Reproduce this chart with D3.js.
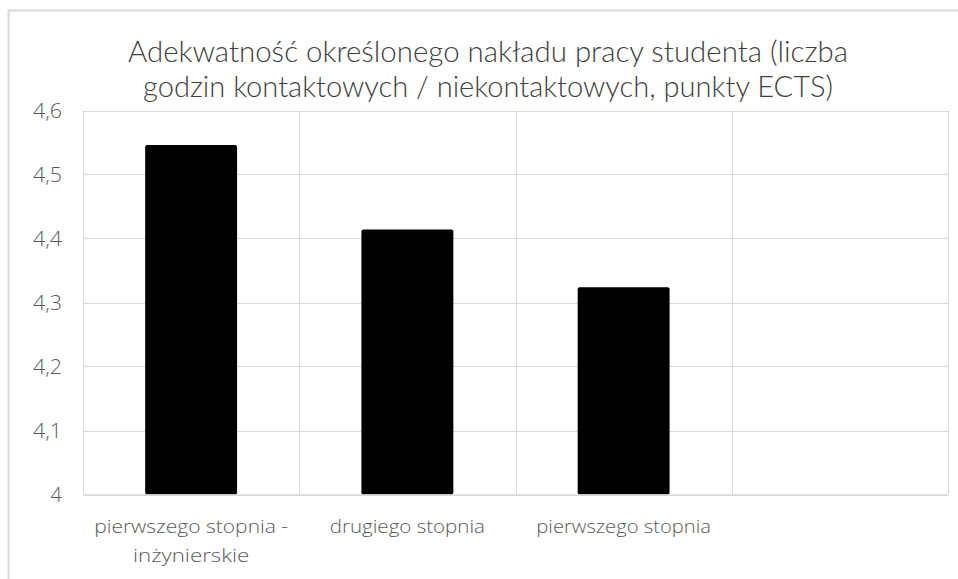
<!DOCTYPE html>
<html>
<head>
<meta charset="utf-8">
<script src="https://cdn.jsdelivr.net/npm/d3@7"></script>
<style>
  body { margin: 0; background: #fff; }
  svg { display: block; }
  .grid line { stroke: #d9d9d9; stroke-width: 1; }
  .axis text { fill: #595959; font-family: 'Open Sans', sans-serif; font-weight: 300; }
  .title { fill: #404040; font-family: 'Lato', sans-serif; }
</style>
</head>
<body>
<div id="chart"></div>
<script>
(function () {'use strict';

// Data
var categories = [
    ['pierwszego stopnia -', 'inżynierskie'],
    ['drugiego stopnia'],
    ['pierwszego stopnia'],
    ['']
];
var values = [4.546, 4.414, 4.324, null];
var yTicks = [4, 4.1, 4.2, 4.3, 4.4, 4.5, 4.6];
var titleLines = [
    'Adekwatność określonego nakładu pracy studenta (liczba',
    'godzin kontaktowych / niekontaktowych, punkty ECTS)'
];

var W = 958, H = 579,
    plot = { left: 83, right: 948, top: 110.5, bottom: 494.5 };

var svg = d3.select('#chart')
    .append('svg')
        .attr('width', W)
        .attr('height', H);

// chart frame (only left and top edges visible)
svg.append('path')
    .attr('d', 'M8.5,579V10.5H958')
    .attr('fill', 'none')
    .attr('stroke', '#d9d9d9')
    .attr('stroke-width', 2);

var x = d3.scaleBand()
    .domain(d3.range(categories.length))
    .range([plot.left, plot.right])
    .padding(0);

var y = d3.scaleLinear()
    .domain([4, 4.6])
    .range([plot.bottom, plot.top]);

var barW = x.bandwidth() * 0.425;

/*
 * GRID
 */
var grid = svg.append('g').attr('class', 'grid');

grid.selectAll('.h')
    .data(yTicks)
    .enter().append('line')
        .attr('x1', plot.left)
        .attr('x2', plot.right)
        .attr('y1', function (d) { return Math.round(y(d)) + 0.5; })
        .attr('y2', function (d) { return Math.round(y(d)) + 0.5; });

grid.selectAll('.v')
    .data(d3.range(categories.length + 1))
    .enter().append('line')
        .attr('x1', function (i) { return Math.round(plot.left + i * x.step()) + 0.5; })
        .attr('x2', function (i) { return Math.round(plot.left + i * x.step()) + 0.5; })
        .attr('y1', plot.top)
        .attr('y2', plot.bottom);

/*
 * BARS
 */
svg.selectAll('.bar')
    .data(values.filter(function (v) { return v !== null; }))
    .enter().append('rect')
        .attr('class', 'bar')
        .attr('x', function (d, i) { return x(i) + (x.bandwidth() - barW) / 2; })
        .attr('y', function (d) { return y(d); })
        .attr('width', barW)
        .attr('height', function (d) { return y(4) - y(d); })
        .attr('rx', 2)
        .attr('fill', '#000');

// bottom axis line over bars
svg.append('line')
    .attr('x1', plot.left)
    .attr('x2', plot.right)
    .attr('y1', plot.bottom + 0.5)
    .attr('y2', plot.bottom + 0.5)
    .attr('stroke', '#d9d9d9')
    .attr('stroke-width', 1.5);

/*
 * AXES
 */
var fmt = function (d) { return d3.format('.1~f')(d).replace('.', ','); };

var yl = svg.append('g')
    .attr('class', 'axis y')
    .selectAll('text')
    .data(yTicks)
    .enter().append('text')
        .attr('x', 62)
        .attr('y', function (d) { return y(d); })
        .attr('dy', '0.36em')
        .attr('text-anchor', 'end')
        .style('font-size', '20px')
        .text(fmt);

// labels are a bit wider in the original
yl.filter(function (d) { return fmt(d).length > 1; })
    .attr('textLength', 29)
    .attr('lengthAdjust', 'spacingAndGlyphs');

var xl = svg.append('g')
    .attr('class', 'axis x')
    .selectAll('text')
    .data(categories)
    .enter().append('text')
        .attr('x', function (d, i) { return x(i) + x.bandwidth() / 2; })
        .attr('y', 533)
        .attr('text-anchor', 'middle')
        .style('font-size', '19px');

xl.selectAll('tspan')
    .data(function (d) { return d; })
    .enter().append('tspan')
        .attr('x', function () { return d3.select(this.parentNode).attr('x'); })
        .attr('dy', function (d, i) { return i ? 29 : 0; })
        .attr('textLength', function (d) { return d.length * 9.7; })
        .attr('lengthAdjust', 'spacingAndGlyphs')
        .text(function (d) { return d; });

/*
 * TITLE
 */
svg.selectAll('.title')
    .data(titleLines)
    .enter().append('text')
        .attr('class', 'title')
        .attr('x', 488)
        .attr('y', function (d, i) { return 62 + i * 35; })
        .attr('text-anchor', 'middle')
        .attr('textLength', function (d, i) { return i ? 690 : 720; })
        .attr('lengthAdjust', 'spacingAndGlyphs')
        .style('font-size', '29px')
        .style('font-weight', 300)
        .text(function (d) { return d; });

})();
</script>
</body>
</html>
